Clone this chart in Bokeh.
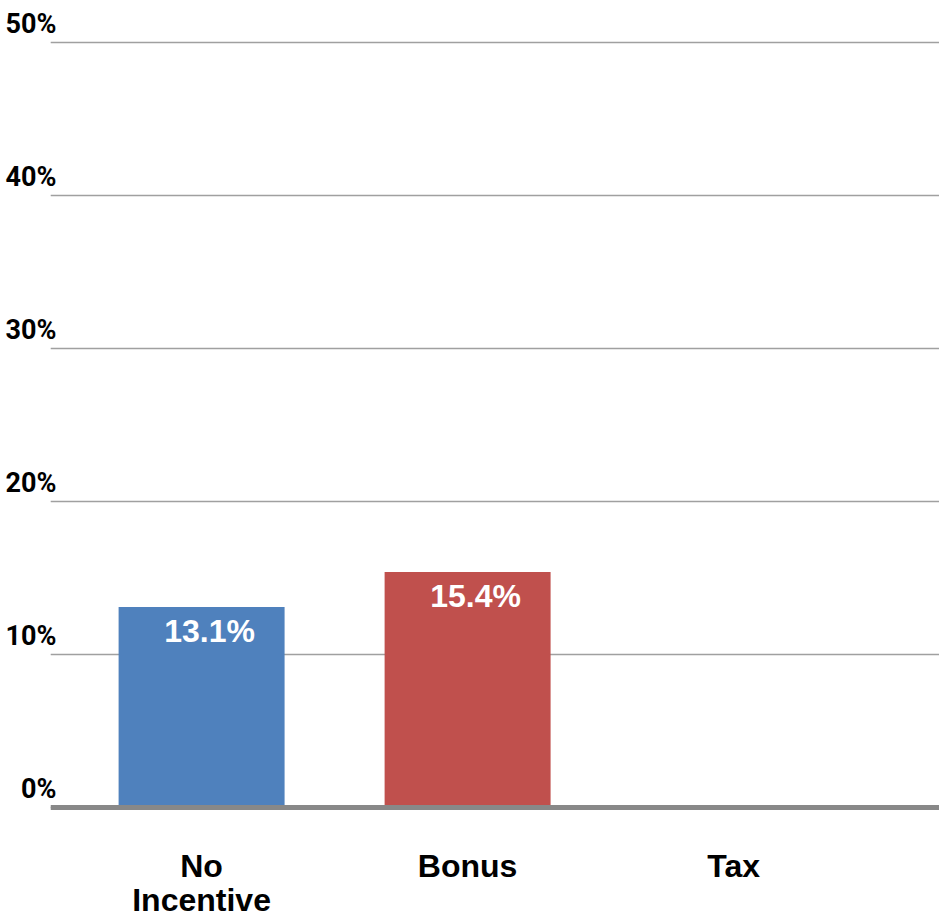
from bokeh.plotting import figure
from bokeh.models import (ColumnDataSource, FixedTicker, Span, LabelSet,
                          LinearAxis, Range1d, Grid)
from bokeh.core.properties import value
from bokeh.embed import file_html
from bokeh.resources import INLINE

categories = ["No\nIncentive", "Bonus", "Tax"]
values = [13.1, 15.4, 0.0]
value_labels = ["13.1%", "15.4%", ""]
colors = ["#4F81BD", "#C0504D", "#9BBB59"]
y_ticks = [0, 10, 20, 30, 40, 50]
y_tick_labels = ["0%", "10%", "20%", "30%", "40%", "50%"]

Y0, Y1 = -0.523, 51.96
LABEL_SHIFT = 1.24  # tick labels sit above their grid lines

xs = list(range(len(categories)))
src = ColumnDataSource(dict(x=xs, top=values, color=colors, label=value_labels))

p = figure(width=939, height=919, output_backend="svg", toolbar_location=None,
           x_range=(-0.568, 2.774), y_range=(Y0, Y1),
           y_axis_location=None,
           frame_width=889, frame_height=803,
           min_border_left=50, min_border_top=12, min_border_right=0, min_border_bottom=10)
p.outline_line_color = None
p.background_fill_color = "white"
p.border_fill_color = "white"

p.extra_y_ranges = {"lab": Range1d(start=Y0 - LABEL_SHIFT, end=Y1 - LABEL_SHIFT)}

grid = Grid(dimension=1, ticker=FixedTicker(ticks=y_ticks),
            grid_line_color="#A0A0A0", grid_line_width=1.5)
p.add_layout(grid)

p.vbar(x="x", top="top", width=0.624, bottom=0, source=src,
       fill_color="color", line_color=None)

labels = LabelSet(x="x", y="top", text="label", source=src,
                  text_align="center", text_baseline="top",
                  x_offset=8, y_offset=-6,
                  text_color="white", text_font=value("Liberation Sans"),
                  text_font_style="bold", text_font_size="32px")
p.add_layout(labels)

p.add_layout(Span(location=0, dimension="width", line_color="#888888", line_width=5))

yax = LinearAxis(y_range_name="lab", ticker=FixedTicker(ticks=y_ticks))
yax.major_label_overrides = {t: l for t, l in zip(y_ticks, y_tick_labels)}
yax.axis_line_color = None
yax.major_tick_line_color = None
yax.minor_tick_line_color = None
yax.major_label_standoff = -12
yax.major_label_text_font = "Roboto"
yax.major_label_text_font_style = "bold"
yax.major_label_text_font_size = "27px"
yax.major_label_text_color = "black"
p.add_layout(yax, "left")

p.xgrid.grid_line_color = None
p.xaxis.ticker = FixedTicker(ticks=xs)
p.xaxis.major_label_overrides = {x: c for x, c in zip(xs, categories)}
p.xaxis.axis_line_color = None
p.xaxis.major_tick_line_color = None
p.xaxis.minor_tick_line_color = None
p.xaxis.major_label_standoff = 26
p.xaxis.major_label_text_font = "Liberation Sans"
p.xaxis.major_label_text_font_style = "bold"
p.xaxis.major_label_text_font_size = "32px"
p.xaxis.major_label_text_line_height = 0.95
p.xaxis.major_label_text_color = "black"

open("out.html", "w").write(file_html(p, INLINE))
